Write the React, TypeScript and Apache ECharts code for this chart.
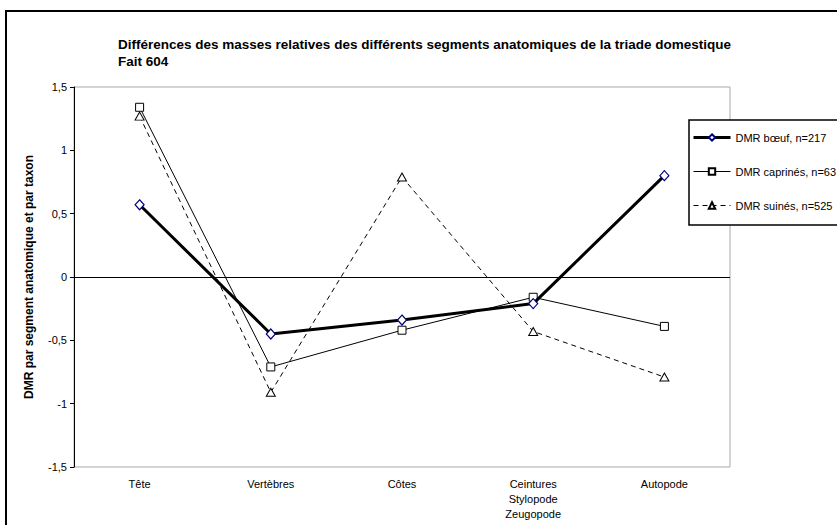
import React, { useEffect, useRef } from "react";
import * as echarts from "echarts";

const categories = ["Tête", "Vertèbres", "Côtes", "Ceintures\nStylopode\nZeugopode", "Autopode"];
const boeuf = [0.57, -0.45, -0.34, -0.21, 0.8];
const caprines = [1.34, -0.71, -0.42, -0.16, -0.39];
const suines = [1.27, -0.91, 0.79, -0.43, -0.79];
const seriesNames = ["DMR bœuf, n=217", "DMR caprinés, n=63", "DMR suinés, n=525"];
const titleText = "Différences des masses relatives des différents segments anatomiques de la triade domestique\nFait 604";
const yAxisName = "DMR par segment anatomique et par taxon";

const FONT = "'Liberation Sans', Arial, sans-serif";

export default function App() {
  const ref = useRef<HTMLDivElement>(null);
  useEffect(() => {
    if (!ref.current) return;
    const chart = echarts.init(ref.current, null, { renderer: "svg" });
    chart.setOption({
      animation: false,
      backgroundColor: "#ffffff",
      textStyle: { fontFamily: FONT },
      title: {
        text: titleText,
        left: 113,
        top: 31,
        textStyle: { fontFamily: FONT, fontSize: 13.5, fontWeight: "bold", color: "#000", lineHeight: 17 },
      },
      graphic: [
        {
          type: "rect",
          shape: { x: 6, y: 11, width: 840, height: 530 },
          style: { fill: "none", stroke: "#000", lineWidth: 2 },
          silent: true,
          z: 100,
        },
      ],
      legend: {
        orient: "vertical",
        left: 689,
        top: 120,
        itemWidth: 37,
        itemHeight: 8,
        itemGap: 23,
        padding: [12, 3, 14, 3],
        borderColor: "#000",
        borderWidth: 1.5,
        backgroundColor: "#fff",
        textStyle: { fontFamily: FONT, fontSize: 11, color: "#000" },
        data: [
          { name: seriesNames[0], lineStyle: { width: 3, color: "#000" } },
          { name: seriesNames[1], lineStyle: { width: 1, color: "#000" } },
          { name: seriesNames[2], lineStyle: { width: 1, color: "#000", type: [5, 4] } },
        ],
      },
      grid: {
        left: 74,
        right: 107,
        top: 87,
        bottom: 58,
        show: true,
        borderColor: "#a8a8a8",
        borderWidth: 1,
        backgroundColor: "#fff",
      },
      xAxis: {
        type: "category",
        data: categories,
        boundaryGap: true,
        axisLine: { show: false },
        axisTick: { show: false },
        splitLine: { show: false },
        axisLabel: { color: "#000", fontSize: 11, fontFamily: FONT, margin: 9, lineHeight: 15, interval: 0 },
      },
      yAxis: {
        type: "value",
        min: -1.5,
        max: 1.5,
        interval: 0.5,
        name: yAxisName,
        nameLocation: "middle",
        nameGap: 39,
        nameTextStyle: { fontFamily: FONT, fontSize: 12, fontWeight: "bold", color: "#000" },
        axisLine: { show: true, lineStyle: { color: "#000", width: 1 } },
        axisTick: { show: true, length: 4, lineStyle: { color: "#000" } },
        splitLine: { show: false },
        axisLabel: {
          color: "#000",
          fontSize: 11,
          fontFamily: FONT,
          margin: 7,
          formatter: (v: number) => String(v).replace(".", ","),
        },
      },
      series: [
        {
          name: seriesNames[0],
          type: "line",
          data: boeuf,
          symbol: "diamond",
          symbolSize: [9, 10],
          lineStyle: { color: "#000", width: 3 },
          itemStyle: { color: "#fff", borderColor: "#000080", borderWidth: 1.2 },
          z: 5,
          markLine: {
            silent: true,
            symbol: "none",
            label: { show: false },
            lineStyle: { color: "#000", width: 1, type: "solid" },
            data: [{ yAxis: 0 }],
            z: 1,
          },
        },
        {
          name: seriesNames[1],
          type: "line",
          data: caprines,
          symbol: "rect",
          symbolSize: 8,
          lineStyle: { color: "#000", width: 1 },
          itemStyle: { color: "#fff", borderColor: "#000", borderWidth: 1 },
          z: 4,
        },
        {
          name: seriesNames[2],
          type: "line",
          data: suines,
          symbol: "triangle",
          symbolSize: [9, 8],
          lineStyle: { color: "#000", width: 1, type: [5, 4] },
          itemStyle: { color: "#fff", borderColor: "#000", borderWidth: 1 },
          z: 3,
        },
      ],
    });
    return () => chart.dispose();
  }, []);
  return (
    <div
      ref={ref}
      style={{ position: "absolute", left: 0, top: 0, width: 837, height: 525 }}
    />
  );
}
